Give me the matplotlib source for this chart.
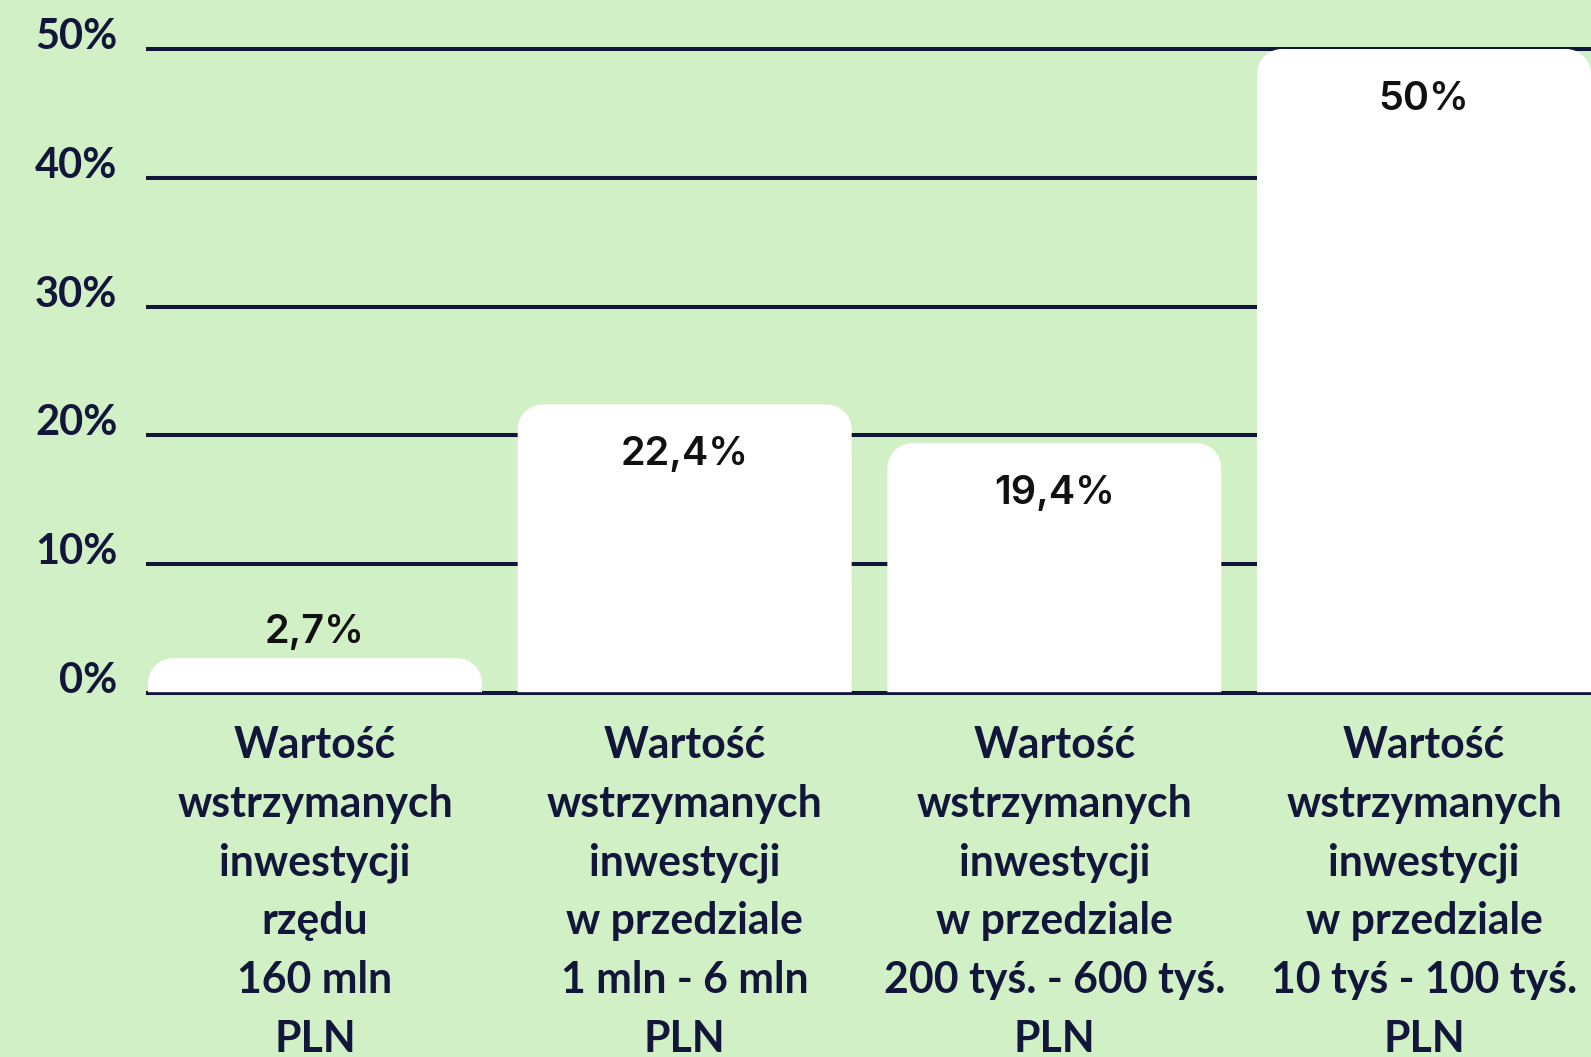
import matplotlib
matplotlib.use("Agg")
import matplotlib.pyplot as plt
from matplotlib.path import Path
from matplotlib.patches import PathPatch

categories = [
    "Wartość\nwstrzymanych\ninwestycji\nrzędu\n160 mln\nPLN",
    "Wartość\nwstrzymanych\ninwestycji\nw przedziale\n1 mln - 6 mln\nPLN",
    "Wartość\nwstrzymanych\ninwestycji\nw przedziale\n200 tyś. - 600 tyś.\nPLN",
    "Wartość\nwstrzymanych\ninwestycji\nw przedziale\n10 tyś - 100 tyś.\nPLN",
]
values = [2.7, 22.4, 19.4, 50.0]
value_labels = ["2,7%", "22,4%", "19,4%", "50%"]
yticks = [0, 10, 20, 30, 40, 50]
ytick_labels = ["0%", "10%", "20%", "30%", "40%", "50%"]

BG = "#d2f0c5"
NAVY = "#12163a"
W, H = 1591, 1057
fig = plt.figure(figsize=(W / 100, H / 100), dpi=100, facecolor=BG)

ax_left = 148 / W
ax_bottom = (H - 693) / H
ymax = 52
px_per_unit = (693 - 49) / 50.0
ax_height = (ymax * px_per_unit) / H
ax = fig.add_axes([ax_left, ax_bottom, 1 - ax_left, ax_height])
ax.set_facecolor(BG)
bw = 0.9035
ax.set_xlim(-bw / 2, len(values) - 1 + bw / 2)
ax.set_ylim(0, ymax)
for s in ax.spines.values():
    s.set_visible(False)

# gridlines
for t in yticks:
    ax.axhline(t, color=NAVY, lw=2.9, zorder=1, clip_on=False)

# rounded bars
xpx = (1 - ax_left) * W / (len(values) - 1 + bw)
rx = 25 / xpx
ry = 25 / px_per_unit
k = 0.5523
for i, v in enumerate(values):
    x0, x1 = i - bw / 2, i + bw / 2
    r_y = min(ry, v)
    verts = [(x0, 0), (x0, v - r_y),
             (x0, v - r_y + k * r_y), (x0 + rx - k * rx, v), (x0 + rx, v),
             (x1 - rx, v),
             (x1 - rx + k * rx, v), (x1, v - r_y + k * r_y), (x1, v - r_y),
             (x1, 0), (x0, 0)]
    codes = [Path.MOVETO, Path.LINETO,
             Path.CURVE4, Path.CURVE4, Path.CURVE4,
             Path.LINETO,
             Path.CURVE4, Path.CURVE4, Path.CURVE4,
             Path.LINETO, Path.CLOSEPOLY]
    ax.add_patch(PathPatch(Path(verts, codes), facecolor="white",
                           edgecolor="none", zorder=2, clip_on=False))

ax.axhline(0, color=NAVY, lw=1.2, zorder=3, clip_on=False)

# value labels
for i, (v, lab) in enumerate(zip(values, value_labels)):
    dy = 15 if v < 10 else -61
    ax.annotate(lab, (i, v), xytext=(0, dy), textcoords="offset pixels",
                ha="center", va="baseline", fontsize=28.5, family="Inter",
                fontweight="semibold", color="#111111", zorder=4)

# category labels
for i, lab in enumerate(categories):
    ax.annotate(lab, (i, 0), xytext=(0, -32), textcoords="offset pixels",
                ha="center", va="top", fontsize=30.8, family="Lato",
                fontweight="bold", color=NAVY, linespacing=1.565,
                annotation_clip=False)

ax.set_xticks([])
ax.set_yticks(yticks)
ax.set_yticklabels(ytick_labels, family="Lato", fontweight="bold",
                   fontsize=30, color=NAVY)
ax.tick_params(axis="y", length=0, pad=22)
for l in ax.get_yticklabels():
    l.set_verticalalignment("baseline")

fig.savefig("out.png", dpi=100, facecolor=BG)
